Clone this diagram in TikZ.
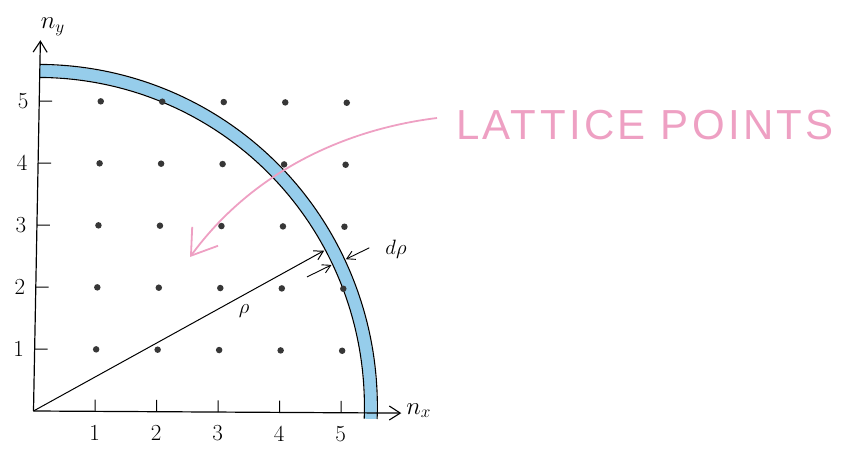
\documentclass[tikz,border=0pt]{standalone}
\usepackage{fontspec}
\usetikzlibrary{arrows.meta}
\newfontfamily\handfont[LetterSpace=8]{Liberation Sans}
\definecolor{bandblue}{RGB}{150,205,235}
\definecolor{pinkhand}{RGB}{238,160,195}
\definecolor{dotgray}{RGB}{55,55,55}
\tikzset{
  axisline/.style={line width=1.2pt,-{Straight Barb[length=11pt,width=14pt,line width=1.1pt]}},
  tickmark/.style={line width=1pt},
  ticklabel/.style={font=\fontsize{23}{24}\selectfont,inner sep=0pt},
  latdot/.style={circle,fill=dotgray,inner sep=0pt,minimum size=6.5pt},
  rimline/.style={line width=1.1pt},
  smallarrow/.style={line width=0.9pt,-{Straight Barb[length=8pt,width=9pt,line width=0.9pt]}},
  mathlabel/.style={inner sep=0pt,font=\fontsize{25}{26}\selectfont},
  pinkarrow/.style={pinkhand,line width=1.8pt,-{Straight Barb[length=24pt,width=32pt,line width=1.8pt]}}
}
\begin{document}
\begin{tikzpicture}[x=1pt,y=1pt]
\useasboundingbox (0,0) rectangle (858,450);
\begin{scope}[shift={(33.5pt,39pt)}, x={(61.5pt,-0.35pt)}, y={(1.15pt,62pt)}]
  % band
  \fill[bandblue] (-1:5.39) arc[start angle=-1,end angle=90,radius=5.39] -- (90:5.58) arc[start angle=90,end angle=-1,radius=5.58] -- cycle;
  \draw[rimline] (-1:5.38) arc[start angle=-1,end angle=90,radius=5.38];
  \draw[rimline] (-1:5.59) arc[start angle=-1,end angle=90,radius=5.59];
  % axes
  \coordinate (O) at (0,0);
  \coordinate (xend) at (5.98,0);
  \coordinate (yend) at (0,5.98);
  \draw[axisline] (O) -- (xend);
  \draw[axisline] (O) -- (yend);
  \node[mathlabel,anchor=west] (nx) at (6.06,0.04) {$n_x$};
  \node[mathlabel,anchor=south] (ny) at (0.2,6.05) {$n_y$};
  % ticks and labels
  \foreach \i in {1,...,5}{
    \coordinate (xt\i) at (\i,0);
    \coordinate (xu\i) at (\i,0.19);
    \draw[tickmark] (xt\i) -- (xu\i);
    \node[ticklabel] (xl\i) at (\i,-0.34) {\i};
    \coordinate (yt\i) at (0,\i);
    \coordinate (yu\i) at (0.21,\i);
    \draw[tickmark] (yt\i) -- (yu\i);
    \node[ticklabel] (yl\i) at (-0.26,\i) {\i};
  }
  % lattice points
  \foreach \i in {1,...,5}{
    \foreach \j in {1,...,5}{
      \node[latdot] (p\i\j) at (\i,\j) {};
    }
  }
  % rho
  \coordinate (r1) at (29.2:5.36);
  \draw[line width=1pt,-{Straight Barb[length=9pt,width=10pt,line width=1pt]}] (O) -- (r1);
  \coordinate (s0) at (26.4:4.92);
  \coordinate (s1) at (26.4:5.36);
  \draw[smallarrow] (s0) -- (s1);
  \coordinate (d0) at (26.2:6.03);
  \coordinate (d1) at (26.2:5.61);
  \draw[smallarrow] (d0) -- (d1);
\end{scope}
\node[mathlabel,font=\fontsize{21}{22}\selectfont] (rho) at (244,139) {$\rho$};
\node[mathlabel,font=\fontsize{21}{22}\selectfont] (drho) at (396,201) {$d\rho$};
% pink annotation
\node[pinkhand,font=\handfont\fontsize{42}{44}\selectfont,inner sep=0pt] (lp) at (645,325) {LATTICE POINTS};
\coordinate (pa0) at (437,332);
\coordinate (pa1) at (190,193);
\draw[pinkarrow] (pa0) .. controls (340,320) and (250,275) .. (pa1);
\end{tikzpicture}
\end{document}
